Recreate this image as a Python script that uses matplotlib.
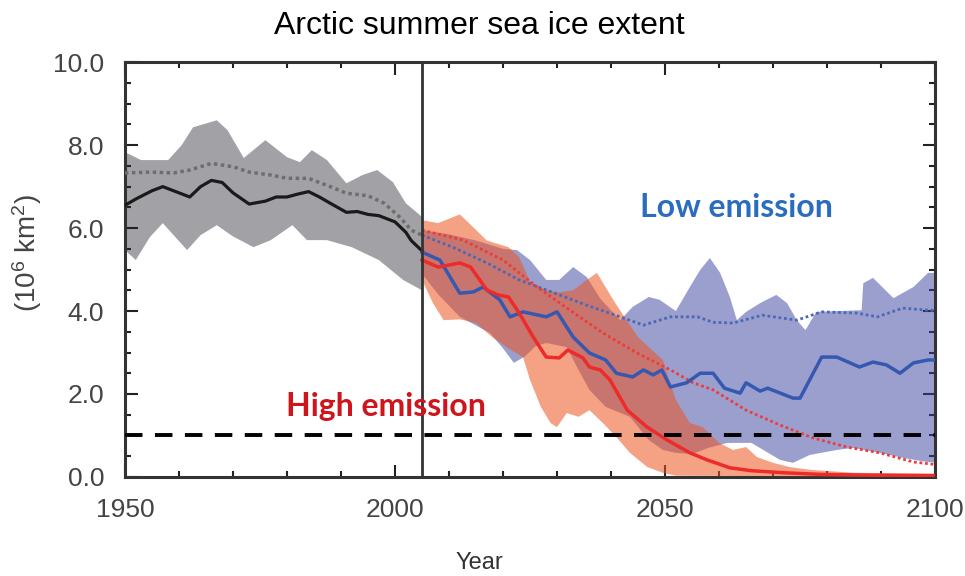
import numpy as np
import matplotlib
matplotlib.use('Agg')
import matplotlib.pyplot as plt
from matplotlib.ticker import MultipleLocator

plt.rcParams['font.family'] = ['Liberation Sans', 'DejaVu Sans']
plt.rcParams['mathtext.default'] = 'regular'

# historical (1950-2005)
hist_years = [1950, 1952, 1955, 1957, 1960, 1962, 1964, 1966, 1968, 1970, 1973, 1976,
              1978, 1980, 1982, 1984, 1986, 1988, 1991, 1993, 1995, 1997, 2000, 2002, 2003, 2005]
hist_mean = [6.55, 6.7, 6.9, 7.0, 6.85, 6.75, 7.0, 7.15, 7.1, 6.85, 6.58, 6.65,
             6.75, 6.75, 6.82, 6.88, 6.75, 6.6, 6.38, 6.4, 6.33, 6.3, 6.15, 5.9, 5.7, 5.45]
hist_dot_years = [1950, 1955, 1959, 1962, 1966, 1970, 1973, 1977, 1980, 1984, 1988,
                  1991, 1995, 1998, 2001, 2003, 2005]
hist_dot = [7.33, 7.35, 7.33, 7.4, 7.56, 7.48, 7.35, 7.28, 7.2, 7.2, 7.0,
            6.84, 6.78, 6.6, 6.25, 5.95, 5.83]
hist_up_years = [1950, 1953, 1958, 1960.5, 1962.6, 1967, 1969, 1972, 1976, 1980, 1982.4,
                 1984.6, 1987.4, 1991, 1994, 1996.7, 1999.6, 2002, 2005]
hist_up = [7.83, 7.64, 7.64, 8.0, 8.43, 8.6, 8.36, 7.69, 8.12, 7.71, 7.59,
           7.88, 7.64, 7.08, 7.28, 7.4, 7.11, 6.6, 6.27]
hist_lo_years = [1950, 1952, 1954.6, 1957, 1961.5, 1964, 1967, 1970, 1973.8, 1977, 1981,
                 1983.7, 1987.4, 1992, 1997, 2001.5, 2005]
hist_lo = [5.47, 5.23, 5.78, 6.12, 5.47, 5.83, 6.07, 5.8, 5.54, 5.71, 6.07,
           5.71, 5.71, 5.54, 5.23, 4.75, 4.5]

# high emission (RCP8.5)
high_years = [2005, 2008, 2012, 2014, 2017, 2019, 2021, 2023, 2025.6, 2028, 2030.4, 2032,
              2034.8, 2036, 2038, 2039.8, 2043, 2046.7, 2050.4, 2054.6, 2057.8, 2062, 2066,
              2072, 2079, 2090, 2100]
high_mean = [5.23, 5.06, 5.16, 5.06, 4.51, 4.39, 4.34, 3.95, 3.37, 2.89, 2.87, 3.06,
             2.87, 2.65, 2.58, 2.34, 1.61, 1.2, 0.89, 0.58, 0.41, 0.22, 0.15,
             0.1, 0.06, 0.04, 0.03]
high_dot_years = [2005, 2012.6, 2020, 2026.3, 2032.4, 2038.5, 2044.8, 2051, 2055.2, 2058.9,
                  2065, 2071.3, 2077.4, 2083.7, 2089.8, 2096, 2100]
high_dot = [5.95, 5.71, 5.23, 4.58, 4.02, 3.47, 2.99, 2.58, 2.27, 2.1,
            1.61, 1.25, 0.94, 0.72, 0.58, 0.36, 0.3]
high_up_years = [2005, 2008, 2012, 2014.5, 2017, 2021, 2023, 2025, 2028, 2030.4, 2033, 2035.5,
                 2037.4, 2040.4, 2042, 2045, 2049.6, 2052, 2054.6, 2057, 2060, 2062.6, 2065,
                 2067, 2070, 2073, 2077, 2085, 2100]
high_up = [6.19, 6.12, 6.33, 6.02, 5.7, 5.54, 5.3, 4.7, 4.5, 4.45, 4.5, 4.75,
           4.92, 4.27, 3.95, 3.37, 2.82, 1.86, 1.3, 1.2, 0.82, 0.65, 0.72,
           0.48, 0.34, 0.24, 0.17, 0.1, 0.08]
high_lo_years = [2005, 2007, 2009, 2012, 2015, 2018, 2021, 2023.7, 2025, 2027, 2028.8, 2030,
                 2031.8, 2034, 2036, 2038.5, 2041, 2043.5, 2046.7, 2049.6, 2052, 2100]
high_lo = [4.75, 4.2, 3.78, 3.8, 3.71, 3.37, 3.1, 2.89, 2.34, 1.69, 1.3, 1.2,
           1.54, 1.45, 1.61, 1.3, 0.96, 0.58, 0.24, 0.1, 0.03, 0.0]

# low emission (RCP2.6)
low_years = [2005, 2008.3, 2012, 2014.5, 2016.3, 2019.4, 2021.3, 2023.7, 2028, 2030, 2033,
             2036, 2039, 2041, 2044, 2046, 2047.8, 2049.4, 2051, 2054, 2056.5, 2058.9,
             2061, 2063.9, 2065, 2067.6, 2069, 2073.7, 2075, 2079, 2081.8, 2086, 2088.5,
             2091, 2093.5, 2096, 2098.7, 2100]
low_mean = [5.42, 5.23, 4.43, 4.46, 4.58, 4.27, 3.86, 3.98, 3.86, 3.98, 3.37,
            2.99, 2.82, 2.5, 2.41, 2.58, 2.46, 2.58, 2.17, 2.27, 2.5, 2.5,
            2.14, 2.02, 2.27, 2.07, 2.14, 1.9, 1.9, 2.89, 2.89, 2.65, 2.77,
            2.7, 2.5, 2.75, 2.82, 2.82]
low_dot_years = [2005, 2010.7, 2017, 2023, 2029, 2035.5, 2041.7, 2046, 2051, 2056, 2058.9,
                 2062.6, 2068, 2074.4, 2079, 2085.6, 2089.3, 2094, 2098.7, 2100]
low_dot = [5.83, 5.54, 5.16, 4.75, 4.46, 4.14, 3.86, 3.66, 3.86, 3.86, 3.73,
           3.71, 3.9, 3.78, 3.98, 3.95, 3.86, 4.07, 4.02, 4.02]
low_up_years = [2005, 2010, 2015, 2020, 2022.6, 2025, 2028, 2030.4, 2033, 2035.5, 2038,
                2041.7, 2044, 2047, 2049, 2052, 2054.6, 2056.5, 2058.3, 2060.2, 2062,
                2063.3, 2065, 2067.6, 2070.6, 2072.6, 2074.4, 2076, 2078, 2086.4, 2086.7,
                2088.5, 2092.3, 2096, 2098.7, 2100]
low_up = [5.95, 5.85, 5.7, 5.5, 5.47, 5.23, 4.75, 4.75, 5.06, 4.82, 4.3,
          3.78, 4.1, 4.34, 4.27, 4.0, 4.58, 4.99, 5.28, 4.92, 4.34,
          3.78, 3.98, 4.19, 4.39, 4.19, 3.78, 3.54, 3.98, 4.02, 4.67,
          4.8, 4.31, 4.58, 4.92, 4.92]
low_lo_years = [2005, 2008, 2012, 2017.6, 2020, 2022, 2024, 2026, 2028, 2031.8, 2033.7,
                2036, 2039, 2043.5, 2047, 2049.6, 2052, 2055, 2058, 2061.5, 2066, 2071.3,
                2073.7, 2076.8, 2081.8, 2084.8, 2089.8, 2094, 2098.5, 2100]
low_lo = [4.9, 4.4, 3.86, 3.47, 3.1, 2.75, 2.9, 3.15, 3.23, 3.13, 2.65,
          2.1, 1.69, 1.45, 0.89, 0.65, 0.58, 0.55, 0.7, 0.82, 0.82, 0.41,
          0.34, 0.53, 0.65, 0.7, 0.58, 0.46, 0.36, 0.35]


def band(ax, ux, uy, lx, ly, **kw):
    xs = np.r_[ux, lx[::-1]]
    ys = np.r_[uy, ly[::-1]]
    ax.fill(xs, ys, lw=0, **kw)


fig = plt.figure(figsize=(9.65, 5.76), dpi=100)
ax = fig.add_axes([0.1295, 0.172, 0.8395, 0.720])

band(ax, hist_up_years, hist_up, hist_lo_years, hist_lo, color='#a2a2a6', zorder=1)
band(ax, low_up_years, low_up, low_lo_years, low_lo, color=(0.22, 0.25, 0.62), alpha=0.5, zorder=2)
band(ax, high_up_years, high_up, high_lo_years, high_lo, color=(0.93, 0.33, 0.12), alpha=0.55, zorder=3)

ax.plot(hist_dot_years, hist_dot, color='#6e6e70', lw=2.5, ls=(0, (1, 1)), zorder=5)
ax.plot(hist_years, hist_mean, color='#1a1a1a', lw=2.3, zorder=6)
ax.plot(low_dot_years, low_dot, color='#4a68b8', lw=2.0, ls=(0, (1, 1)), zorder=5)
ax.plot(high_dot_years, high_dot, color='#ee3b3b', lw=2.0, ls=(0, (1, 1)), zorder=5)
ax.plot(low_years, low_mean, color='#3558b0', lw=2.5, zorder=6)
ax.plot(high_years, high_mean, color='#ee2a2a', lw=2.5, zorder=7)

ax.axvline(2005, color='#333333', lw=2, zorder=8)
ax.axhline(1.0, color='black', lw=2.8, dashes=(4.5, 3.2), zorder=8)

ax.text(2063.3, 6.5, 'Low emission', color='#2a6cbd', fontsize=23, fontweight='bold',
        family=['Lato', 'DejaVu Sans'], ha='center', va='center', zorder=9)
ax.text(1998.3, 1.69, 'High emission', color='#d0141c', fontsize=23, fontweight='bold',
        family=['Lato', 'DejaVu Sans'], ha='center', va='center', zorder=9)

ax.set_xlim(1950, 2100)
ax.set_ylim(0, 10)
ax.set_xticks([1950, 2000, 2050, 2100])
ax.xaxis.set_minor_locator(MultipleLocator(10))
ax.yaxis.set_major_locator(MultipleLocator(2))
ax.yaxis.set_minor_locator(MultipleLocator(0.5))
ax.set_yticklabels(['%.1f' % v for v in ax.get_yticks()])
ax.tick_params(which='both', direction='in', top=True, right=True, color='#222222', width=1.5)
ax.tick_params(which='major', length=9, labelsize=19, labelcolor='#444444')
ax.tick_params(axis='y', which='major', pad=15)
ax.tick_params(axis='x', which='major', pad=15)
ax.tick_params(which='minor', length=4.5)
for s in ax.spines.values():
    s.set_linewidth(2.2)
    s.set_color('#333333')

ax.set_ylabel('(10$^6$ km$^2$)', fontsize=20, color='#444444')
ax.yaxis.set_label_coords(-0.1, 0.54)
fig.text(0.497, 0.955, 'Arctic summer sea ice extent', fontsize=23, ha='center', va='center')
fig.text(0.497, 0.022, 'Year', fontsize=17, color='#333333', ha='center', va='center')

fig.savefig('out.png', dpi=100)
